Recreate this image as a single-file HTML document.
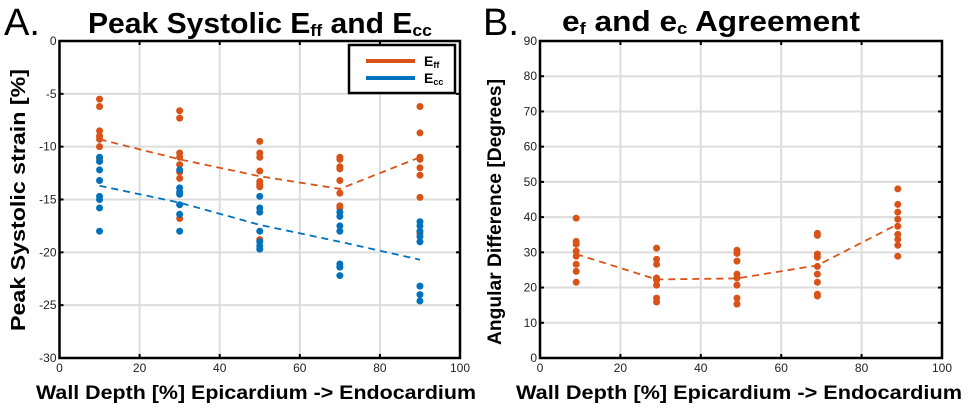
<!DOCTYPE html>
<html><head><meta charset="utf-8"><style>
body{margin:0;background:#fff;}
svg{display:block;font-family:"Liberation Sans",Arial,sans-serif;}
</style></head><body>
<svg id="fig" width="969" height="408" viewBox="0 0 969 408" xmlns="http://www.w3.org/2000/svg">
<g id="pA"></g>
<g id="pB"></g>
</svg>
<script>
const depthsA = [10, 30, 50, 70, 90];
const effValues = [
 [-5.5,-6.2,-8.5,-9,-9.3,-10,-11.2],
 [-6.6,-7.3,-10.6,-11,-11.7,-12.4,-13,-16.8],
 [-9.5,-10.6,-11,-12.3,-13.3,-13.6,-13.8,-18.8],
 [-11,-11.2,-11.9,-12.1,-13.2,-14.4,-15.6,-15.8],
 [-6.2,-8.7,-11,-11.2,-12,-12.7,-14.8,-18.2]
];
const eccValues = [
 [-11,-11.4,-12.2,-13.2,-14.7,-15,-15.8,-18],
 [-12.2,-13.9,-14.3,-14.5,-15.5,-16.4,-18],
 [-14.7,-15.8,-16.2,-18,-19,-19.4,-19.7],
 [-16.2,-16.6,-17.5,-18,-21.1,-21.4,-22.2],
 [-17.1,-17.5,-18,-18.5,-19,-23.2,-24,-24.6]
];
const effTrend = [-9.3, -11.2, -12.8, -14, -11];
const eccTrend = [-13.7, -15.3, -17.4, -19, -20.7];
const depthsB = [9, 29, 49, 69, 89];
const angleValues = [
 [39.7,33.1,32.3,30.3,28.9,26.6,24.6,21.5],
 [31.2,28,26.6,22.7,22.1,20.7,17,15.9],
 [30.6,29.7,27.5,23.8,22.7,20.7,17,15.3],
 [35.4,34.8,29.5,28.6,26,23.8,21.5,18.1,17.6],
 [48,43.6,41.4,39.4,37.4,35.1,33.7,32,28.9]
];
const angleTrend = [29.5, 22.3, 22.6, 26.3, 38];
const xTicks = [0,20,40,60,80,100];
const yTicksA = [0,-5,-10,-15,-20,-25,-30];
const yTicksB = [0,10,20,30,40,50,60,70,80,90];

const NS="http://www.w3.org/2000/svg";
const ORANGE="#d95319", BLUE="#0072bd";
function mk(parent,tag,attrs,txt){const e=document.createElementNS(NS,tag);for(const k in attrs)e.setAttribute(k,attrs[k]);if(txt!==undefined)e.textContent=txt;parent.appendChild(e);return e;}

function panel(g, L, R, T, B, xmin,xmax,ymin,ymax, yTicks){
  const sx=v=>L+(v-xmin)/(xmax-xmin)*(R-L);
  const sy=v=>B-(v-ymin)/(ymax-ymin)*(B-T);
  mk(g,'rect',{x:L,y:T,width:R-L,height:B-T,fill:'#fff'});
  xTicks.forEach(t=>{
    const l=mk(g,'line',{x1:sx(t),x2:sx(t),y1:T,y2:B,stroke:'#dcdcdc','stroke-width':2});
    
    
    mk(g,'line',{x1:sx(t),x2:sx(t),y1:B,y2:B-4,stroke:'#000','stroke-width':2});
    mk(g,'line',{x1:sx(t),x2:sx(t),y1:T,y2:T+4,stroke:'#000','stroke-width':2});
    const tx=mk(g,'text',{x:sx(t),y:B+14,'font-size':12,'text-anchor':'middle',fill:'#222'},String(t));
    
    
  });
  yTicks.forEach(t=>{
    const l=mk(g,'line',{x1:L,x2:R,y1:sy(t),y2:sy(t),stroke:'#dcdcdc','stroke-width':2});
    
    
    mk(g,'line',{x1:L,x2:L+4,y1:sy(t),y2:sy(t),stroke:'#000','stroke-width':2});
    mk(g,'line',{x1:R,x2:R-4,y1:sy(t),y2:sy(t),stroke:'#000','stroke-width':2});
    const tx=mk(g,'text',{x:L-3,y:sy(t)+4,'font-size':12,'text-anchor':'end',fill:'#222'},String(t));
    
    
  });
  return {sx,sy};
}
function series(g,s,xs,vals,trend,color,name){
  xs.forEach((x,i)=>vals[i].forEach(v=>{
    const c=mk(g,'circle',{cx:s.sx(x),cy:s.sy(v),r:3.5,fill:color});
    
    
  }));
  const p=mk(g,'polyline',{points:xs.map((x,i)=>s.sx(x)+','+s.sy(trend[i])).join(' '),fill:'none',stroke:color,'stroke-width':1.8,'stroke-dasharray':'7 5'});
  
  
}
function frame(g,L,R,T,B){const f=mk(g,'rect',{x:L,y:T,width:R-L,height:B-T,fill:'none',stroke:'#000','stroke-width':2.5});}

// Panel A
const gA=document.getElementById('pA');
const sA=panel(gA,59.5,460,41,358,0,100,-30,0,yTicksA);
series(gA,sA,depthsA,effValues,effTrend,ORANGE,'eff');
series(gA,sA,depthsA,eccValues,eccTrend,BLUE,'ecc');
frame(gA,59.5,460,41,358);
gA.insertAdjacentHTML('beforeend',`
<g>
<rect x="349" y="45" width="106" height="48" fill="#fff" stroke="#000" stroke-width="2.5"/>
<line x1="366" y1="61" x2="415" y2="61" stroke="${ORANGE}" stroke-width="4"/>
<text x="424" y="66" font-size="14" font-weight="bold">E<tspan font-size="9" dy="2">ff</tspan></text>
<line x1="366" y1="78" x2="415" y2="78" stroke="${BLUE}" stroke-width="4"/>
<text x="424" y="83" font-size="14" font-weight="bold">E<tspan font-size="9" dy="2">cc</tspan></text>
</g>
<text x="4" y="35" font-size="38">A.</text>
<text x="88" y="33" font-size="29" font-weight="bold" textLength="344" lengthAdjust="spacingAndGlyphs">Peak Systolic E<tspan font-size="17" dy="3">ff</tspan><tspan dy="-3"> and E</tspan><tspan font-size="17" dy="3">cc</tspan></text>
<text transform="translate(25,200) rotate(-90)" font-size="20" font-weight="bold" text-anchor="middle" textLength="262" lengthAdjust="spacingAndGlyphs">Peak Systolic strain [%]</text>
<text x="36" y="399" font-size="19" font-weight="bold" textLength="440" lengthAdjust="spacingAndGlyphs">Wall Depth [%] Epicardium -&gt; Endocardium</text>
`);

// Panel B
const gB=document.getElementById('pB');
const sB=panel(gB,540,942,41,358,0,100,0,90,yTicksB);
series(gB,sB,depthsB,angleValues,angleTrend,ORANGE,'angle');
frame(gB,540,942,41,358);
gB.insertAdjacentHTML('beforeend',`
<text x="483" y="35" font-size="38">B.</text>
<text x="562" y="31" font-size="29" font-weight="bold" textLength="298" lengthAdjust="spacingAndGlyphs">e<tspan font-size="17" dy="3">f</tspan><tspan dy="-3"> and e</tspan><tspan font-size="17" dy="3">c</tspan><tspan dy="-3"> Agreement</tspan></text>
<text transform="translate(501,212) rotate(-90)" font-size="19" font-weight="bold" text-anchor="middle" textLength="266" lengthAdjust="spacingAndGlyphs">Angular Difference [Degrees]</text>
<text x="516" y="399" font-size="19" font-weight="bold" textLength="446" lengthAdjust="spacingAndGlyphs">Wall Depth [%] Epicardium -&gt; Endocardium</text>
`);
</script>
</body></html>
